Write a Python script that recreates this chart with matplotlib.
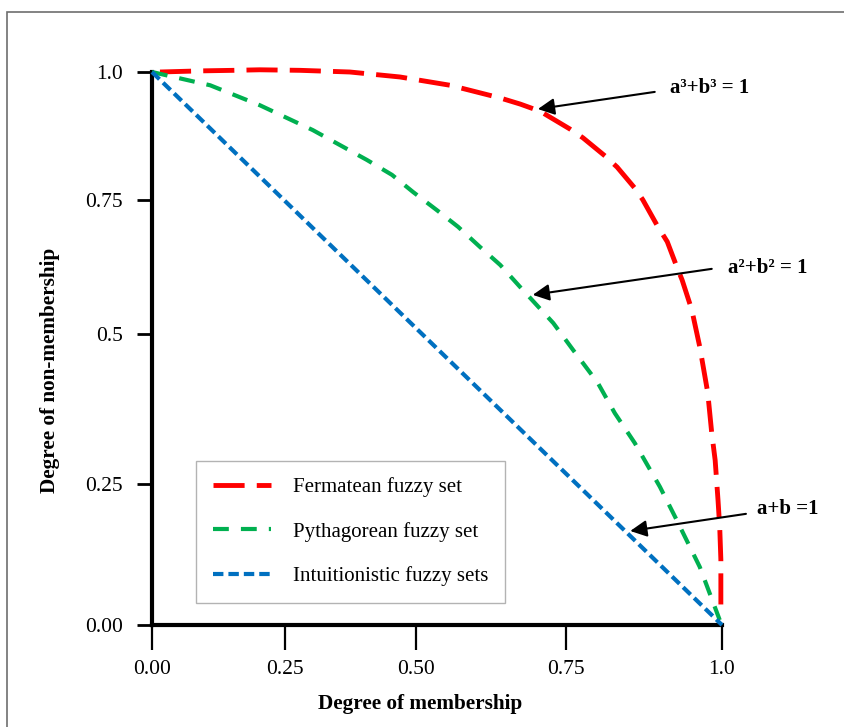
import matplotlib
matplotlib.use("Agg")
import matplotlib.pyplot as plt
from matplotlib.patches import Rectangle

plt.rcParams['font.family'] = ['Liberation Serif', 'DejaVu Serif']

# --- data (axes run 0..1 in both directions) ---
ferm_x = [0.014, 0.084, 0.142, 0.189, 0.26, 0.347, 0.435, 0.523, 0.611, 0.646, 0.681,
          0.733, 0.756, 0.795, 0.816, 0.847, 0.861, 0.886, 0.904, 0.921, 0.930, 0.947,
          0.961, 0.975, 0.982, 0.988, 0.993, 0.996, 0.998, 0.998]
ferm_y = [1.0, 1.002, 1.003, 1.004, 1.003, 1.0, 0.991, 0.976, 0.953, 0.942, 0.929,
          0.897, 0.881, 0.848, 0.828, 0.790, 0.769, 0.723, 0.693, 0.647, 0.624, 0.570,
          0.503, 0.420, 0.347, 0.298, 0.226, 0.177, 0.118, 0.022]
pyth_x = [0.0, 0.102, 0.189, 0.282, 0.377, 0.421, 0.458, 0.5, 0.537, 0.575, 0.611,
          0.646, 0.704, 0.739, 0.782, 0.812, 0.847, 0.891, 0.918, 0.961, 0.996]
pyth_y = [1.0, 0.976, 0.940, 0.895, 0.841, 0.814, 0.783, 0.750, 0.720, 0.684, 0.651,
          0.611, 0.546, 0.497, 0.438, 0.383, 0.329, 0.250, 0.195, 0.105, 0.009]
intu_x = [0.0, 1.0]
intu_y = [1.0, 0.0]

series_labels = ["Fermatean fuzzy set", "Pythagorean fuzzy set", "Intuitionistic fuzzy sets"]

xtick_pos = [0.0, 0.234, 0.464, 0.726, 1.0]
xtick_labels = ["0.00", "0.25", "0.50", "0.75", "1.0"]
ytick_pos = [0.0, 0.255, 0.526, 0.769, 1.0]
ytick_labels = ["0.00", "0.25", "0.5", "0.75", "1.0"]

eq_labels = ["a³+b³ = 1", "a²+b² = 1", "a+b =1"]

# --- figure ---
fig = plt.figure(figsize=(8.45, 7.27), dpi=100)
fig.patches.append(Rectangle((7 / 845, -0.1), 1.2, (727 - 12) / 727 + 0.1,
                             transform=fig.transFigure, fill=False,
                             edgecolor='#6e6e6e', linewidth=1.2))
ax = fig.add_axes([152 / 845, (727 - 625) / 727, 570 / 845, 553 / 727])

ax.plot(ferm_x, ferm_y, color='#FF0000', lw=3.5, linestyle=(0, (6.4, 2.5)),
        dash_capstyle='butt', clip_on=False, label=series_labels[0], zorder=3)
ax.plot(pyth_x, pyth_y, color='#00B050', lw=3, linestyle=(0, (3.8, 2.9)),
        dash_capstyle='butt', clip_on=False, label=series_labels[1], zorder=3)
ax.plot(intu_x, intu_y, color='#0070C0', lw=3, linestyle=(0, (2.5, 1.2)),
        dash_capstyle='butt', clip_on=False, label=series_labels[2], zorder=3)

ax.set_xlim(0, 1)
ax.set_ylim(0, 1)
for s in ['top', 'right']:
    ax.spines[s].set_visible(False)
for s in ['left', 'bottom']:
    ax.spines[s].set_linewidth(3)
    ax.spines[s].set_zorder(2)

ax.set_xticks(xtick_pos)
ax.set_xticklabels(xtick_labels)
ax.set_yticks(ytick_pos)
ax.set_yticklabels(ytick_labels)
ax.tick_params(axis='x', direction='out', length=18, width=1.6, pad=7, labelsize=15.5)
ax.tick_params(axis='y', direction='out', length=11, width=2, pad=10, labelsize=15.5)

ax.set_xlabel("Degree of membership", fontsize=15.3, fontweight='bold', va='center')
ax.xaxis.set_label_coords(0.47, -0.143)
ax.set_ylabel("Degree of non-membership", fontsize=15.3, fontweight='bold', va='center')
ax.yaxis.set_label_coords(-0.179, 0.461)

leg = ax.legend(loc='lower left', bbox_to_anchor=(0.077, 0.040), borderaxespad=0,
                fontsize=15, frameon=True, fancybox=False, edgecolor='#a0a0a0',
                handlelength=2.8, handletextpad=1.05, labelspacing=1.18, borderpad=0.8)
leg.get_frame().set_linewidth(1.0)

# annotations
arrow_tails = [(0.882, 0.964), (0.982, 0.644), (1.042, 0.201)]
arrow_tips = [(0.677, 0.933), (0.668, 0.597), (0.839, 0.170)]
text_pos = [(0.909, 0.971), (1.011, 0.645), (1.061, 0.210)]
for lab, tail, tip, tp in zip(eq_labels, arrow_tails, arrow_tips, text_pos):
    ax.annotate('', xy=tip, xytext=tail, xycoords='data', textcoords='data',
                arrowprops=dict(arrowstyle='-|>', color='black', lw=1.5,
                                mutation_scale=25, shrinkA=0, shrinkB=0),
                annotation_clip=False)
    ax.text(tp[0], tp[1], lab, fontsize=15, fontweight='bold', ha='left', va='center',
            clip_on=False)

fig.savefig("out.png", dpi=100)
